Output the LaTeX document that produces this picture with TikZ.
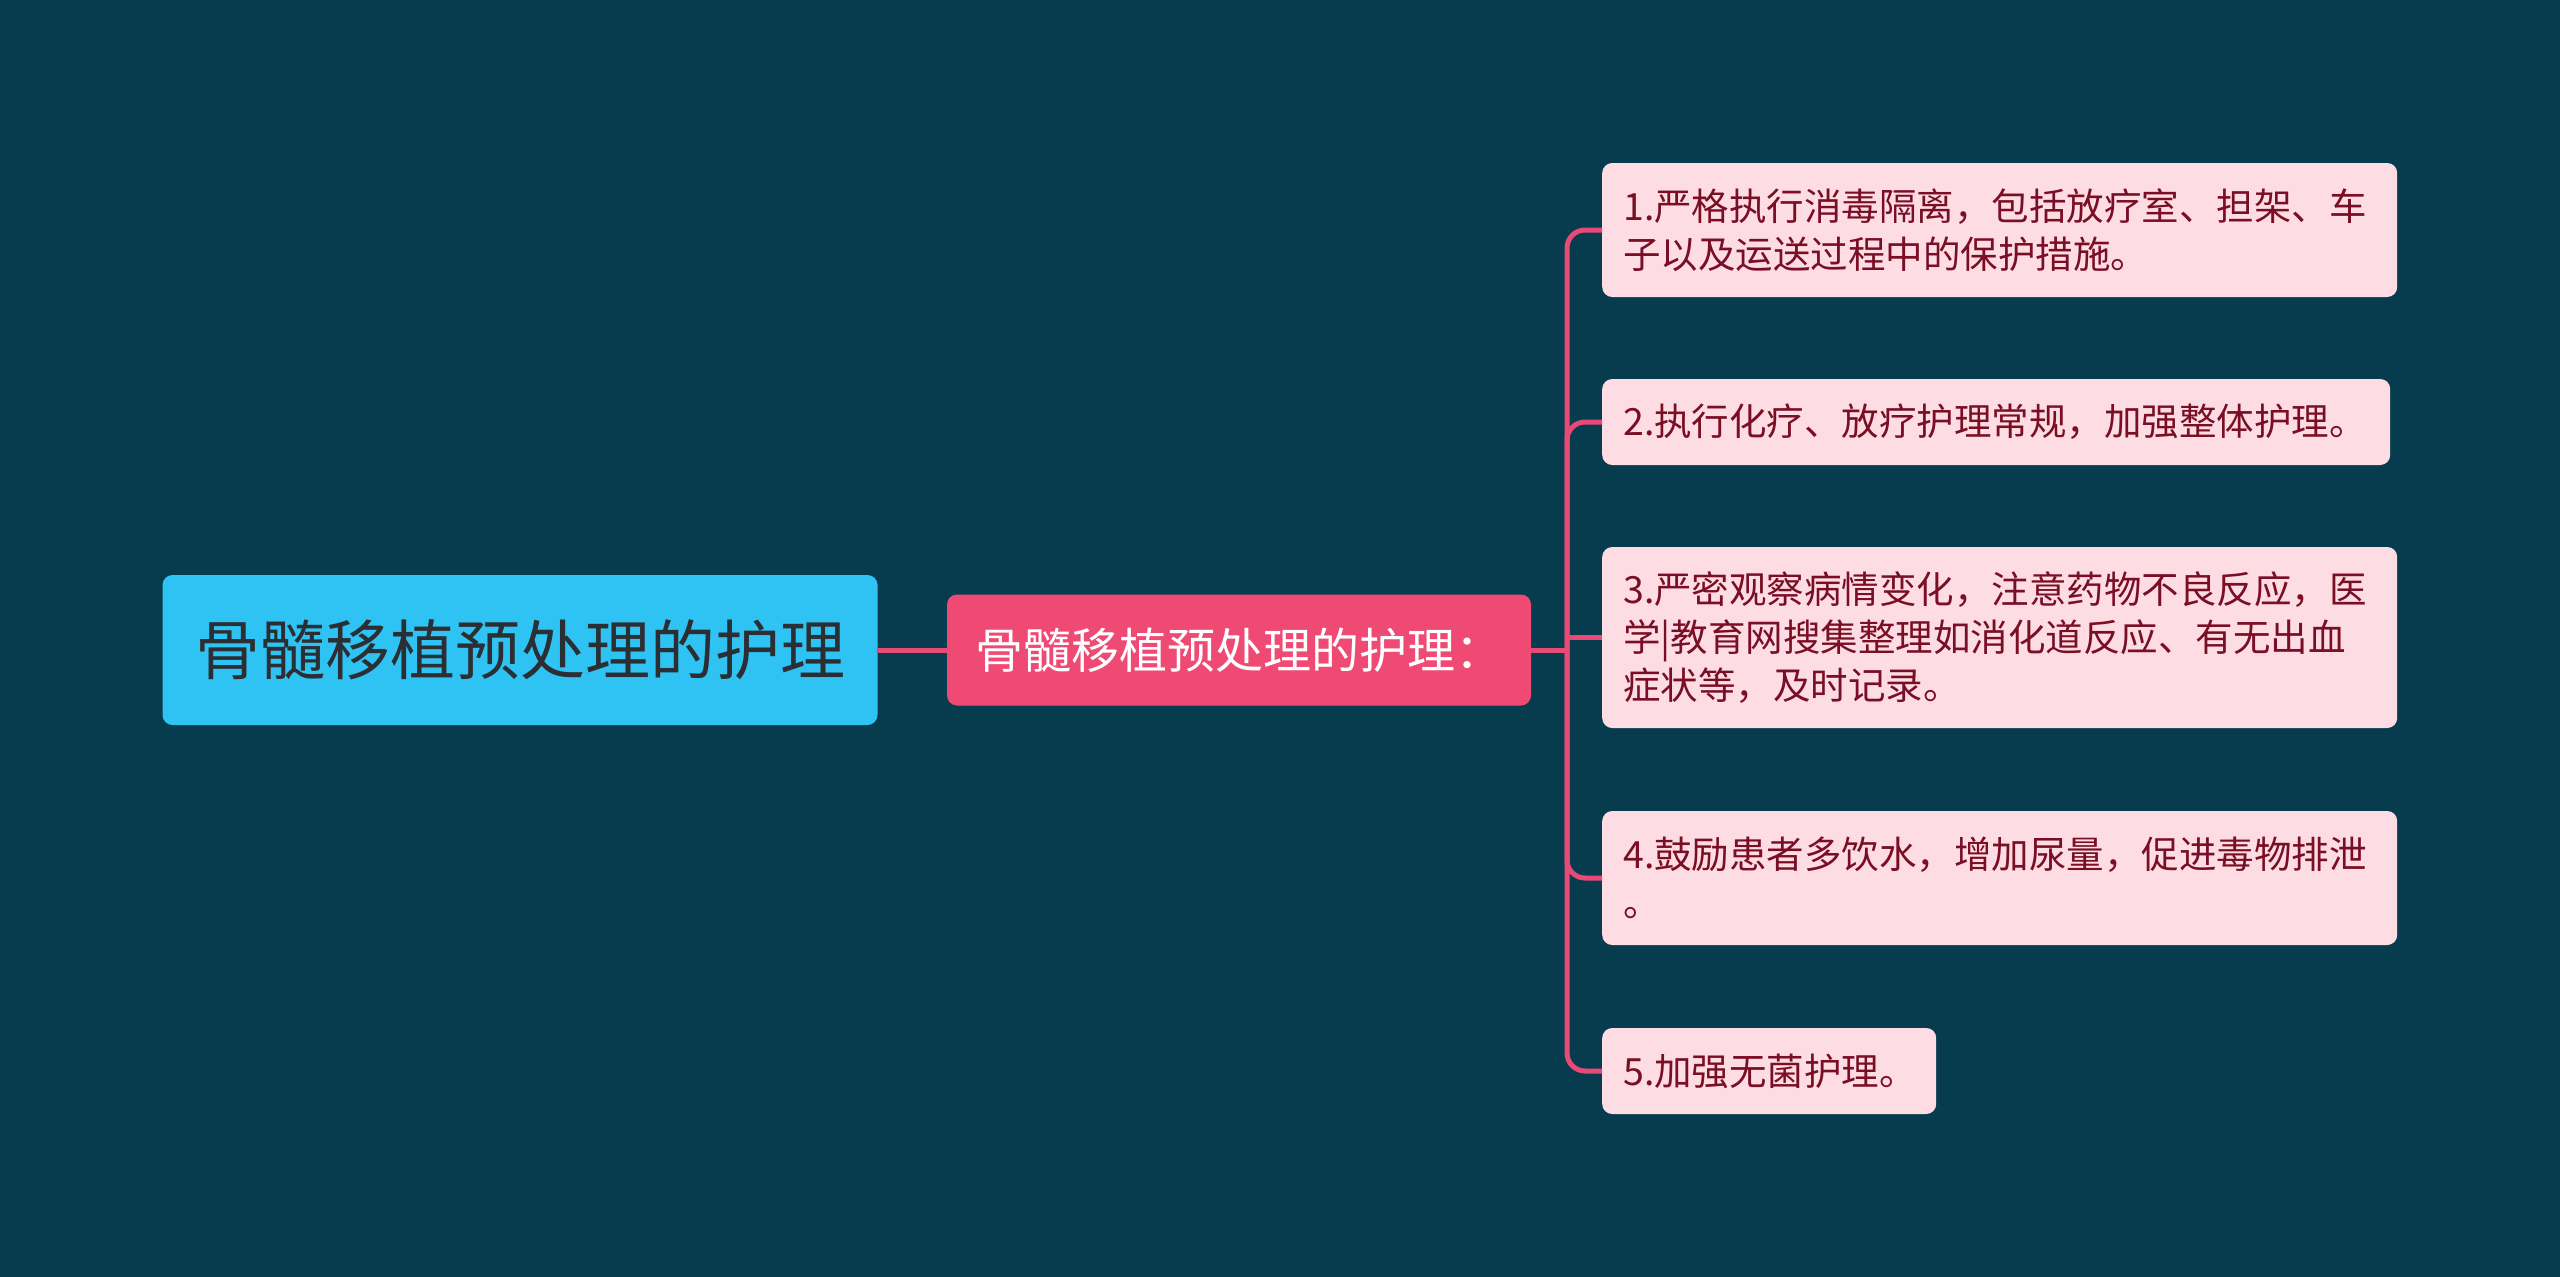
\documentclass[tikz,border=0pt]{standalone}
\usepackage{fontspec}
\newfontfamily\cjk{Noto Sans CJK SC}
\definecolor{bgc}{HTML}{073B4E}
\definecolor{rootc}{HTML}{2EC3F3}
\definecolor{roottext}{HTML}{2B2F33}
\definecolor{subc}{HTML}{EF4A73}
\definecolor{childc}{HTML}{FDDDE3}
\definecolor{childtext}{HTML}{7A0E25}
\definecolor{linec}{HTML}{E84A77}
\tikzset{
  rootbox/.style={fill=rootc, rounded corners=10pt, minimum width=715pt, minimum height=150pt,
    inner sep=0pt, text=roottext, font=\cjk\fontsize{65}{78}\selectfont},
  subbox/.style={fill=subc, rounded corners=10pt, minimum width=584pt, minimum height=111pt,
    inner sep=0pt, text=white, font=\cjk\fontsize{48}{58}\selectfont},
  childbox/.style={fill=childc, rounded corners=10pt, anchor=west, align=left,
    inner xsep=21pt, inner ysep=0pt, text=childtext, font=\cjk\fontsize{37.5}{48}\selectfont},
  conn/.style={draw=linec, line width=5pt, rounded corners=18pt}
}
\begin{document}
\begin{tikzpicture}[x=1pt,y=-1pt]
\fill[bgc] (0,0) rectangle (2560,1277);
\useasboundingbox (0,0) rectangle (2560,1277);
\node[rootbox] (root) at (520,650) {骨髓移植预处理的护理};
\node[subbox] (sub) at (1239,650) {骨髓移植预处理的护理：};
\node[childbox, text width=753pt, minimum height=134pt] (c1) at (1602,230)
  {1.严格执行消毒隔离，包括放疗室、担架、车\\子以及运送过程中的保护措施。};
\node[childbox, text width=746pt, minimum height=86pt] (c2) at (1602,422)
  {2.执行化疗、放疗护理常规，加强整体护理。};
\node[childbox, text width=753pt, minimum height=181pt] (c3) at (1602,637.5)
  {3.严密观察病情变化，注意药物不良反应，医\\学|教育网搜集整理如消化道反应、有无出血\\症状等，及时记录。};
\node[childbox, text width=753pt, minimum height=134pt] (c4) at (1602,878)
  {4.鼓励患者多饮水，增加尿量，促进毒物排泄\\。};
\node[childbox, text width=292pt, minimum height=86pt] (c5) at (1602,1071)
  {5.加强无菌护理。};
\coordinate (bx) at (1567,650);
\draw[conn] (root.east) -- (sub.west);
\draw[conn] (sub.east) -- (bx);
\draw[conn] (bx) |- (c1.west);
\draw[conn] (bx) |- (c2.west);
\draw[conn] (bx |- c3.west) -- (c3.west);
\draw[conn] (bx) |- (c4.west);
\draw[conn] (bx) |- (c5.west);
\end{tikzpicture}
\end{document}
